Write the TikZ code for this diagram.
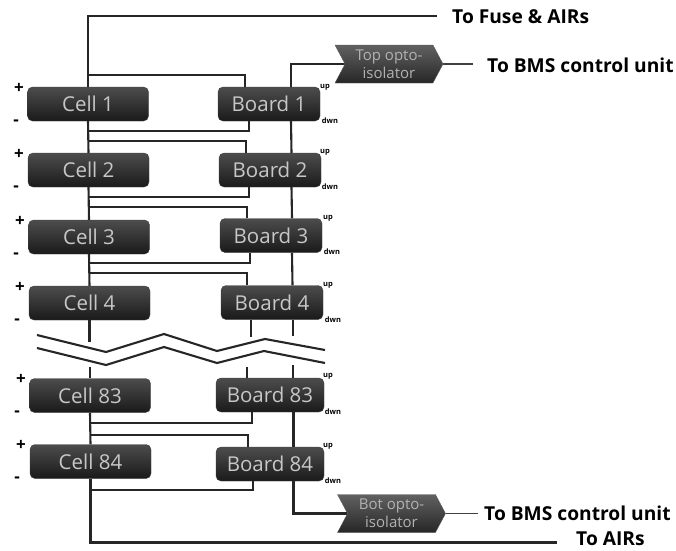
\documentclass[tikz,border=0pt]{standalone}
\usepackage{fontspec}
\setmainfont{Open Sans}
\usepackage{tikz}
\usetikzlibrary{
  positioning,
  shapes.symbols,
  backgrounds
}

\begin{document}
\begin{tikzpicture}[
  x=1pt, y=-1pt,
  cellbox/.style={draw=black!75, rounded corners=5pt, top color=black!70, bottom color=black!90, text=black!22, minimum width=121pt, minimum height=34pt, inner sep=0pt, font=\fontsize{20.5}{22}\selectfont},
  boardbox/.style={cellbox, minimum width=#1},
  opto/.style={draw=black!65, signal, signal from=west, signal to=east, signal pointer angle=124, top color=black!62, bottom color=black!85, text=black!30, minimum width=108pt, minimum height=38pt, inner sep=0pt, align=center, font=\fontsize{15}{18}\selectfont},
  wire/.style={line width=2.1pt, black!85},
  thinwire/.style={line width=1.5pt, black!75},
  dest/.style={anchor=west, inner sep=0pt, font=\fontsize{19.2}{22}\selectfont\bfseries},
  pol/.style={inner sep=0pt, font=\fontsize{17}{18}\selectfont\bfseries},
  tag/.style={inner sep=0pt, font=\fontsize{7.5}{8}\selectfont\bfseries}
]
  \useasboundingbox (0,0) rectangle (676,550);

  % Cells
  \node[cellbox] (cell1) at (88,104) {Cell 1};
  \node[cellbox] (cell2) at (88.5,170) {Cell 2};
  \node[cellbox] (cell3) at (89,237) {Cell 3};
  \node[cellbox] (cell4) at (89.5,303) {Cell 4};
  \node[cellbox] (cell83) at (90,395.5) {Cell 83};
  \node[cellbox] (cell84) at (90.5,461.5) {Cell 84};

  % Boards
  \node[boardbox=102pt] (board1) at (269,104) {Board 1};
  \node[boardbox=102pt] (board2) at (270,170) {Board 2};
  \node[boardbox=102pt] (board3) at (271,235.5) {Board 3};
  \node[boardbox=102pt] (board4) at (272,302.5) {Board 4};
  \node[boardbox=108pt] (board83) at (270,395) {Board 83};
  \node[boardbox=108pt] (board84) at (270,464) {Board 84};

  % Opto-isolators
  \node[opto] (topopto) at (389,64) {Top opto-\\isolator};
  \node[opto] (botopto) at (391.5,513.5) {Bot opto-\\isolator};

  % Destinations
  \node[dest] (fuse) at (452,17) {To Fuse \& AIRs};
  \node[dest] (bmstop) at (487,65) {To BMS control unit};
  \node[dest] (bmsbot) at (484,513) {To BMS control unit};
  \node[dest] (airs) at (576,538.5) {To AIRs};

  % Polarity marks
  \node[pol] (plus1) at (19,88) {+};
  \node[pol] (minus1) at (16,123) {-};
  \node[pol] (plus2) at (19,154) {+};
  \node[pol] (minus2) at (16,189) {-};
  \node[pol] (plus3) at (20,221) {+};
  \node[pol] (minus3) at (16,256) {-};
  \node[pol] (plus4) at (20,287) {+};
  \node[pol] (minus4) at (17,322) {-};
  \node[pol] (plus83) at (21,379) {+};
  \node[pol] (minus83) at (17,414) {-};
  \node[pol] (plus84) at (21,445) {+};
  \node[pol] (minus84) at (17,480) {-};

  % Board tags
  \node[tag] (up1) at (325,87) {up};
  \node[tag] (dwn1) at (330,121) {dwn};
  \node[tag] (up2) at (325,152) {up};
  \node[tag] (dwn2) at (330,187) {dwn};
  \node[tag] (up3) at (328,218) {up};
  \node[tag] (dwn3) at (332,252) {dwn};
  \node[tag] (up4) at (328,285) {up};
  \node[tag] (dwn4) at (333,320) {dwn};
  \node[tag] (up83) at (328,376) {up};
  \node[tag] (dwn83) at (333,412) {dwn};
  \node[tag] (up84) at (328,446) {up};
  \node[tag] (dwn84) at (333,481) {dwn};

  % Stub ends at the break
  \coordinate (cellcut) at (89.5,342);
  \coordinate (sensecut) at (251,337);
  \coordinate (commcut) at (293,336);
  \coordinate (cellres) at (90,367);
  \coordinate (senseres) at (247,367);
  \coordinate (commres) at (293,365);

  \begin{scope}[on background layer]
    % Pack string
    \draw[wire] ([xshift=-15pt,yshift=1pt]fuse.west) -| (cell1.north);
    \draw[wire] (cell1.south) -- (cell2.north);
    \draw[wire] (cell2.south) -- (cell3.north);
    \draw[wire] (cell3.south) -- (cell4.north);
    \draw[wire] (cell4.south) -- (cellcut);
    \draw[wire] (cellres) -- (cell83.north);
    \draw[wire] (cell83.south) -- (cell84.north);
    \draw[wire] (cell84.south) |- ([xshift=-19pt,yshift=-4pt]airs.west);

    % Cell to board
    \draw[wire] ([yshift=12pt]cell1.north) -| ([xshift=-24pt]board1.north);
    \draw[wire] ([yshift=-10pt]cell1.south) -| ([xshift=-20pt]board1.south);
    \draw[wire] ([yshift=12pt]cell2.north) -| ([xshift=-24pt]board2.north);
    \draw[wire] ([yshift=-10pt]cell2.south) -| ([xshift=-21pt]board2.south);
    \draw[wire] ([yshift=13pt]cell3.north) -| ([xshift=-24pt]board3.north);
    \draw[wire] ([yshift=-9pt]cell3.south) -| ([xshift=-21pt]board3.south);
    \draw[wire] ([yshift=13pt]cell4.north) -| ([xshift=-25pt]board4.north);
    \draw[wire] (board4.south -| sensecut) -- (sensecut);
    \draw[wire] (senseres) -- (board83.north -| senseres);
    \draw[wire] ([yshift=-10pt]cell83.south) -| ([xshift=-18pt]board83.south);
    \draw[wire] ([yshift=9pt]cell84.north) -| ([xshift=-22pt]board84.north);
    \draw[wire] ([yshift=-11.5pt]cell84.south) -| ([xshift=-17pt]board84.south);

    % Board to board
    \draw[wire] (topopto.west) -| ([xshift=22pt]board1.north);
    \draw[wire] ([xshift=22pt]board1.south) -- ([xshift=21.5pt]board2.north);
    \draw[wire] ([xshift=21.5pt]board2.south) -- ([xshift=21pt]board3.north);
    \draw[wire] ([xshift=21pt]board3.south) -- ([xshift=20.5pt]board4.north);
    \draw[wire] (board4.south -| commcut) -- (commcut);
    \draw[wire] (commres) -- (board83.north -| commres);
    \draw[wire] ([xshift=23.5pt]board83.south) -- ([xshift=23.5pt]board84.north);
    \draw[wire] ([xshift=23.5pt]board84.south) |- (botopto.west);
    \draw[thinwire] (topopto.east) -- ++(30,0);
    \draw[thinwire] (botopto.east) -- ++(32,0);
  \end{scope}

  % Break in the string
  \draw[wire] (37,335) -- (106,352) -- (164,334) -- (217,351) -- (265,339) -- (325,350);
  \draw[wire] (37,348) -- (106,365) -- (164,347) -- (217,363) -- (264,351) -- (325,363);
\end{tikzpicture}
\end{document}
